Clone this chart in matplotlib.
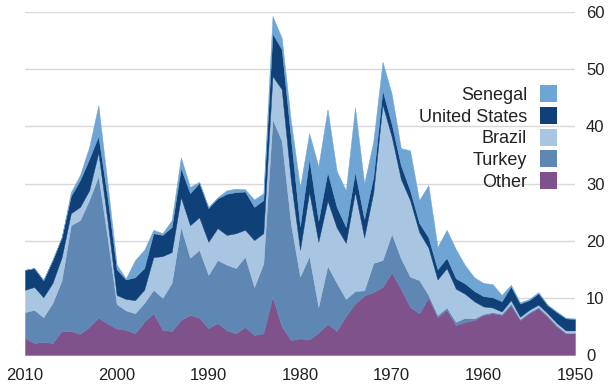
import matplotlib
matplotlib.use("Agg")
import matplotlib.pyplot as plt
from matplotlib.patches import Rectangle
import numpy as np

years = list(range(1950, 2011))

other = [3.8, 3.8, 5.0, 6.7, 8.2, 7.3, 6.1, 8.7, 7.0, 7.3,
         7.0, 6.1, 5.8, 5.2, 7.9, 6.6, 10.0, 7.3, 8.4, 11.6,
         14.4, 11.9, 11.0, 10.4, 9.0, 6.8, 4.2, 5.4, 3.9, 2.7,
         2.9, 2.6, 5.0, 10.2, 3.8, 3.5, 4.9, 3.8, 4.3, 5.6,
         4.7, 6.5, 7.0, 6.1, 4.2, 4.4, 7.3, 5.8, 3.8, 4.4,
         4.6, 5.5, 6.5, 4.9, 3.7, 4.2, 4.2, 2.1, 2.3, 2.1,
         3.0]
turkey = [0.1, 0.1, 0.2, 0.2, 0.2, 0.2, 0.2, 0.3, 0.2, 0.2,
          0.2, 0.3, 0.7, 0.6, 0.4, 0.4, 0.5, 5.8, 5.3, 5.3,
          6.8, 4.7, 5.1, 0.9, 2.2, 3.0, 8.4, 10.2, 4.5, 14.6,
          10.8, 20.4, 32.5, 31.0, 12.2, 8.4, 12.3, 11.4, 11.5, 11.0,
          9.3, 11.9, 10.0, 16.3, 8.4, 5.6, 4.1, 3.3, 3.5, 3.4,
          4.3, 15.0, 24.8, 22.2, 19.9, 18.5, 8.9, 7.0, 4.3, 5.8,
          4.5]
brazil = [0.4, 0.4, 0.4, 0.4, 0.4, 0.4, 0.4, 0.6, 0.4, 0.8,
          1.3, 3.0, 4.2, 5.8, 6.9, 6.2, 8.3, 8.4, 13.4, 13.9,
          17.0, 27.2, 12.4, 9.3, 17.3, 9.8, 9.7, 11.4, 11.4, 11.2,
          4.7, 7.5, 9.0, 7.6, 5.3, 8.2, 4.7, 6.1, 5.2, 5.6,
          5.8, 5.7, 5.7, 5.2, 5.4, 7.3, 5.7, 2.3, 2.3, 2.0,
          1.6, 3.0, 4.1, 1.7, 2.3, 2.1, 4.0, 3.5, 3.5, 4.0,
          3.9]
united_states = [2.0, 2.1, 1.9, 1.4, 2.0, 1.7, 2.3, 2.4, 1.8, 1.8,
                 1.8, 1.8, 1.8, 1.8, 1.8, 1.8, 1.8, 1.6, 1.7, 2.4,
                 2.2, 2.5, 2.7, 3.2, 3.5, 2.8, 3.6, 5.0, 3.7, 5.8,
                 4.1, 7.5, 7.0, 7.4, 5.8, 5.8, 6.7, 7.2, 7.2, 5.2,
                 5.9, 6.0, 5.6, 5.1, 4.4, 3.7, 4.2, 3.8, 4.0, 3.4,
                 4.5, 4.0, 2.9, 5.5, 4.7, 3.0, 3.5, 4.0, 3.0, 3.3,
                 3.5]
senegal = [0.1, 0.1, 0.1, 0.1, 0.2, 0.2, 0.2, 0.3, 1.1, 2.3,
           2.3, 2.4, 3.2, 5.1, 4.9, 3.9, 9.1, 4.0, 7.0, 3.0,
           5.3, 5.0, 6.2, 6.2, 11.3, 6.4, 6.3, 11.0, 9.5, 4.5,
           6.9, 3.0, 2.0, 3.1, 1.2, 1.3, 0.4, 0.6, 0.6, 0.2,
           0.2, 0.2, 1.1, 1.9, 1.2, 0.3, 0.6, 3.2, 3.0, 0.2,
           0.8, 2.5, 5.4, 2.1, 0.9, 0.7, 0.0, 0.0, 0.0, 0.0,
           0.0]

series_names = ["Other", "Turkey", "Brazil", "United States", "Senegal"]
colors = ["#80528c", "#5f87b4", "#a8c6e2", "#0f4078", "#6ea5d4"]

x_ticks = [2010, 2000, 1990, 1980, 1970, 1960, 1950]
y_ticks = [0, 10, 20, 30, 40, 50, 60]

plt.rcParams['font.family'] = ['Liberation Sans', 'DejaVu Sans']

W, H = 614, 391
fig = plt.figure(figsize=(W / 100, H / 100), dpi=100)
ax = fig.add_axes([25 / W, (H - 355) / H, 550 / W, 343 / H])

polys = ax.stackplot(years, other, turkey, brazil, united_states, senegal,
                     colors=colors, labels=series_names, linewidth=0, zorder=2)
for p in polys:
    p.set_edgecolor('face')
    p.set_linewidth(0.3)

ax.set_xlim(2010, 1950)
ax.set_ylim(0, 60)
ax.set_xticks(x_ticks)
ax.set_yticks(y_ticks)
ax.yaxis.tick_right()
ax.tick_params(axis='both', length=0, labelsize=12, colors='#222222')
ax.tick_params(axis='y', pad=8)
ax.tick_params(axis='x', pad=9)
for s in ax.spines.values():
    s.set_visible(False)
ax.grid(axis='y', color='#d8d8d8', linewidth=1, zorder=0)
ax.set_axisbelow(True)

# Legend: swatches on the right of right-aligned labels (top: Senegal)
row_top = 93.5     # px from top, centre of first row
row_step = 21.8
sw = 17
for i, (name, col) in enumerate(zip(series_names[::-1], colors[::-1])):
    yc = row_top + i * row_step
    fig.add_artist(Rectangle((540 / W, 1 - (yc + sw / 2) / H), sw / W, sw / H,
                             transform=fig.transFigure, facecolor=col,
                             edgecolor='none'))
    fig.text(527 / W, 1 - (yc + 6.3) / H, name, ha='right', va='baseline',
             fontsize=13, color='#222222')

fig.savefig("out.png", dpi=100)
